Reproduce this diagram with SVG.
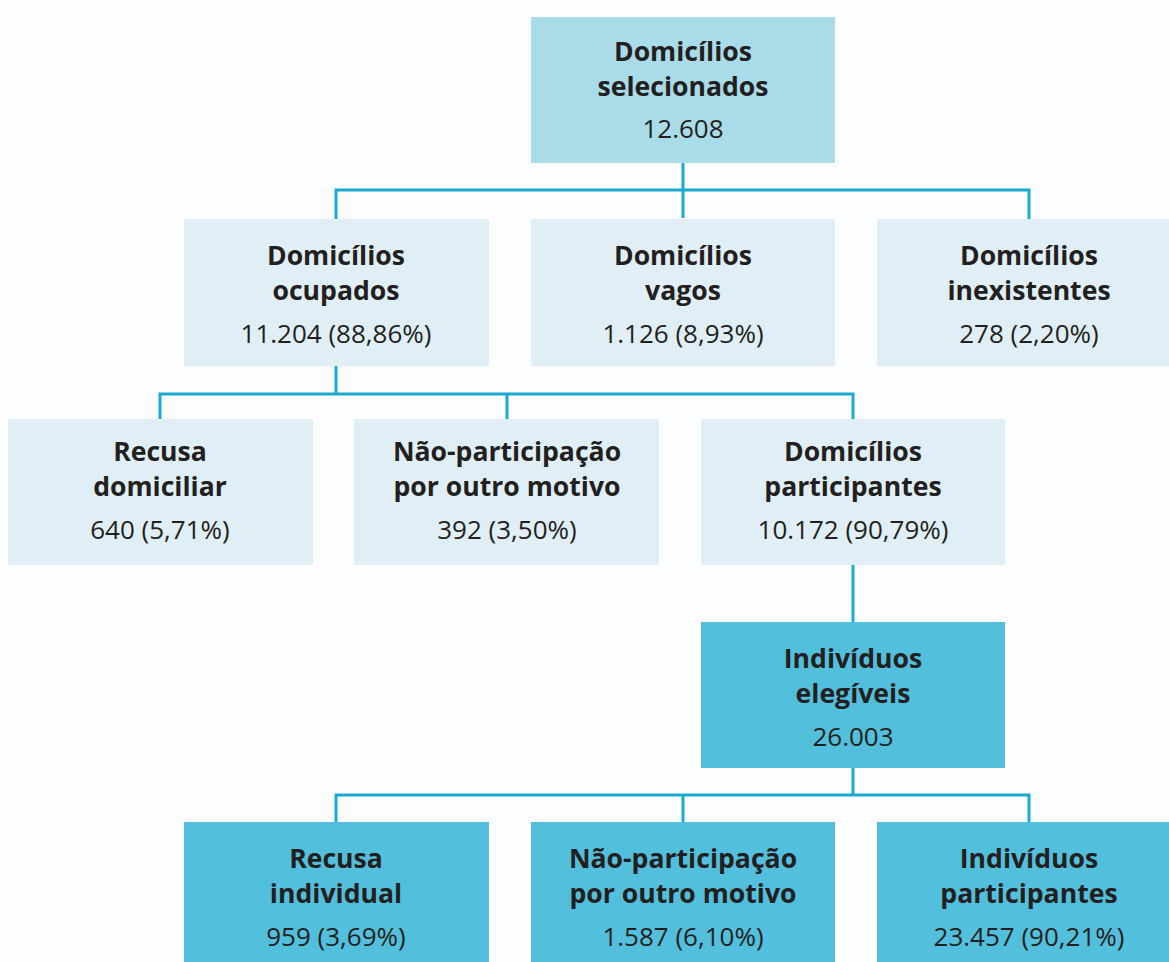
<svg xmlns="http://www.w3.org/2000/svg" width="1169" height="962" viewBox="0 0 1169 962">
<style>
.t{font-family:"Open Sans","Noto Sans","Liberation Sans",sans-serif;fill:#231f20;text-anchor:middle}
.b{font-weight:700;font-size:26.6px}
.r{font-weight:400;font-size:26px}
.l1{fill:#dfeff5}
.l0{fill:#a9dbe9}
.d{fill:#52bfdc}
.c{fill:none;stroke:#1aa9cf;stroke-width:3}
</style>
<rect width="1169" height="962" fill="#fcfdfe"/>
<g id="connectors">
<path class="c" d="M683 163V218M336 219V190H1029V219"/>
<path class="c" d="M336 366V394M160 419V394H853V419M507 394V419"/>
<path class="c" d="M853 565V622"/>
<path class="c" d="M853 768V795M336 822V795H1029V822M683 795V822"/>
</g>
<g id="n-selecionados"><rect class="l0" x="531" y="17" width="304" height="146"/>
<text class="t b" x="683" y="61">Domicílios</text><text class="t b" x="683" y="96">selecionados</text><text class="t r" x="683" y="138">12.608</text></g>
<g id="n-ocupados"><rect class="l1" x="184" y="219" width="305" height="147"/>
<text class="t b" x="336" y="265">Domicílios</text><text class="t b" x="336" y="300">ocupados</text><text class="t r" x="336" y="343">11.204 (88,86%)</text></g>
<g id="n-vagos"><rect class="l1" x="531" y="219" width="304" height="147"/>
<text class="t b" x="683" y="265">Domicílios</text><text class="t b" x="683" y="300">vagos</text><text class="t r" x="683" y="343">1.126 (8,93%)</text></g>
<g id="n-inexistentes"><rect class="l1" x="877" y="219" width="304" height="147"/>
<text class="t b" x="1029" y="265">Domicílios</text><text class="t b" x="1029" y="300">inexistentes</text><text class="t r" x="1029" y="343">278 (2,20%)</text></g>
<g id="n-recusa-dom"><rect class="l1" x="8" y="419" width="305" height="146"/>
<text class="t b" x="160" y="461">Recusa</text><text class="t b" x="160" y="496">domiciliar</text><text class="t r" x="160" y="539">640 (5,71%)</text></g>
<g id="n-naopart-dom"><rect class="l1" x="354" y="419" width="305" height="146"/>
<text class="t b" x="507" y="461">Não-participação</text><text class="t b" x="507" y="496">por outro motivo</text><text class="t r" x="507" y="539">392 (3,50%)</text></g>
<g id="n-participantes"><rect class="l1" x="701" y="419" width="304" height="146"/>
<text class="t b" x="853" y="461">Domicílios</text><text class="t b" x="853" y="496">participantes</text><text class="t r" x="853" y="539">10.172 (90,79%)</text></g>
<g id="n-elegiveis"><rect class="d" x="701" y="622" width="304" height="146"/>
<text class="t b" x="853" y="668">Indivíduos</text><text class="t b" x="853" y="703">elegíveis</text><text class="t r" x="853" y="746">26.003</text></g>
<g id="n-recusa-ind"><rect class="d" x="184" y="822" width="305" height="150"/>
<text class="t b" x="336" y="868">Recusa</text><text class="t b" x="336" y="903">individual</text><text class="t r" x="336" y="946">959 (3,69%)</text></g>
<g id="n-naopart-ind"><rect class="d" x="531" y="822" width="304" height="150"/>
<text class="t b" x="683" y="868">Não-participação</text><text class="t b" x="683" y="903">por outro motivo</text><text class="t r" x="683" y="946">1.587 (6,10%)</text></g>
<g id="n-ind-part"><rect class="d" x="877" y="822" width="304" height="150"/>
<text class="t b" x="1029" y="868">Indivíduos</text><text class="t b" x="1029" y="903">participantes</text><text class="t r" x="1029" y="946">23.457 (90,21%)</text></g>
</svg>
